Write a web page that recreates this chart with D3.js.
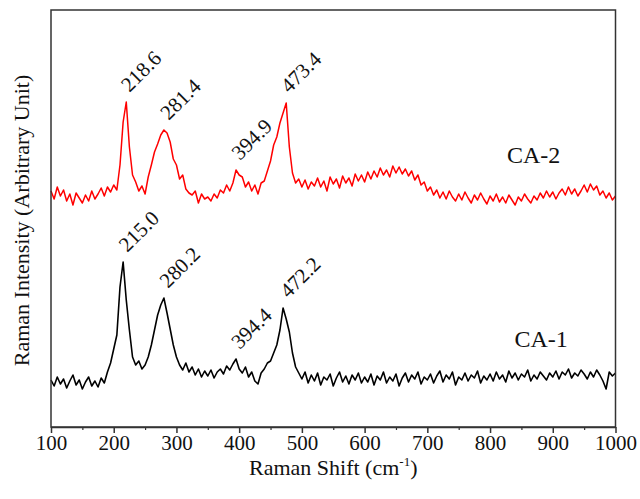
<!DOCTYPE html>
<html>
<head>
<meta charset="utf-8">
<script src="https://cdn.jsdelivr.net/npm/d3@7"></script>
<style>
  html, body { margin: 0; padding: 0; background: #fff; }
  text { font-family: "Liberation Serif", "Times New Roman", serif; fill: #111; }
</style>
</head>
<body>
<div id="chart"></div>
<script>
// Raman spectra, every 5 cm-1 (arbitrary units)
let shift = d3.range(100, 1001, 5);

let ca2 = [
  236,228,240,231,237,226,233,222,234,229,224,232,226,236,228,233,239,231,240,235,   // 100-195
  242,237,262,305,325,280,252,245,236,241,233,250,262,275,283,292,297,294,285,268,   // 200-295
  262,248,252,238,234,232,236,224,233,228,230,226,233,229,237,234,242,236,244,257,   // 300-395
  252,250,240,245,236,242,233,244,246,256,266,282,290,304,314,324,280,254,244,248,   // 400-495
  240,247,238,245,241,249,240,246,236,250,243,248,239,251,244,249,241,253,246,252,   // 500-595
  245,255,248,256,250,259,252,257,250,261,254,260,253,258,251,256,247,252,242,245,   // 600-695
  236,240,232,237,229,235,228,236,230,226,233,227,235,229,224,232,227,234,228,223,   // 700-795
  231,226,233,225,230,224,232,227,222,230,226,233,228,224,231,227,234,229,236,230,   // 800-895
  235,228,234,238,232,240,233,238,231,236,242,235,243,237,241,232,236,229,234,227,   // 900-995
  231                                                                                // 1000
];

let ca1 = [
  47,41,50,43,48,39,46,52,42,47,38,45,50,41,46,40,49,44,55,64,          // 100-195
  78,92,140,165,127,97,70,62,66,58,62,70,82,97,112,122,129,114,98,82,   // 200-295
  70,62,57,64,55,60,52,58,50,56,51,57,49,55,58,53,61,57,63,68,          // 300-395
  58,54,60,50,55,46,43,54,58,64,66,74,82,97,119,108,95,74,60,54,        // 400-495
  48,55,44,52,46,54,42,50,47,53,41,49,55,45,51,43,52,47,54,44,          // 500-595
  50,45,53,42,51,47,55,44,50,46,53,41,49,54,45,52,48,55,43,50,          // 600-695
  47,53,44,51,56,45,52,48,55,42,50,47,54,46,52,49,56,44,51,47,          // 700-795
  53,46,55,48,52,45,56,49,54,47,53,50,57,46,52,48,55,51,47,54,          // 800-895
  50,56,48,55,52,58,49,54,51,57,53,48,55,50,57,52,46,38,55,51,          // 900-995
  54                                                                    // 1000
];

let peaksCA2 = [218.6, 281.4, 394.9, 473.4];
let peaksCA1 = [215.0, 280.2, 394.4, 472.2];
let seriesNames = ['CA-1', 'CA-2'];
let xTicks = d3.range(100, 1001, 100);
let xMinorTicks = d3.range(150, 1000, 100);

let width = 640, height = 499;
let margin = {'top': 10, 'bottom': 72, 'left': 51, 'right': 24.5};

let svg = d3.select('#chart').append('svg').attr('width', width).attr('height', height);

let xScale = d3.scaleLinear().domain([100, 1000]).range([margin.left, width - margin.right]);
let yScale = d3.scaleLinear().domain([0, 417]).range([height - margin.bottom, margin.top]);

let series = [
  {'name': seriesNames[0], 'values': ca1, 'peaks': peaksCA1, 'color': '#000', 'lw': 1.6, 'label': [839, 80]},
  {'name': seriesNames[1], 'values': ca2, 'peaks': peaksCA2, 'color': '#ff0000', 'lw': 1.5, 'label': [827, 264]}
];

let line = d3.line().x((d, i) => xScale(shift[i])).y(d => yScale(d));

series.forEach(s => {
  svg.append('path').datum(s.values)
    .attr('fill', 'none')
    .attr('stroke', s.color)
    .attr('stroke-width', s.lw)
    .attr('stroke-linejoin', 'round')
    .attr('d', line);

  // peak labels, rotated, sitting just above each peak
  s.peaks.forEach(p => {
    let top = d3.max(s.values.filter((v, i) => Math.abs(shift[i] - p) <= 6));
    let px = xScale(p) + 4, py = yScale(top) - 9;
    svg.append('text')
      .attr('transform', 'translate(' + [px, py] + ') rotate(-45)')
      .attr('font-size', 21)
      .text(p.toFixed(1));
  });

  svg.append('text')
    .attr('x', xScale(s.label[0]))
    .attr('y', yScale(s.label[1]))
    .attr('font-size', 24)
    .text(s.name);
});

// frame
let x0 = xScale.range()[0], x1 = xScale.range()[1];
let y0 = yScale.range()[0], y1 = yScale.range()[1];
svg.append('rect')
  .attr('x', x0).attr('y', y1)
  .attr('width', x1 - x0).attr('height', y0 - y1)
  .attr('fill', 'none').attr('stroke', '#333').attr('stroke-width', 1.5);

let axis = svg.append('g')
  .attr('transform', 'translate(0,' + y0 + ')')
  .call(d3.axisBottom(xScale).tickValues(xTicks).tickFormat(d3.format('d'))
    .tickSize(6).tickPadding(2).tickSizeOuter(0));
axis.select('.domain').attr('stroke', '#333').attr('stroke-width', 1.5);
axis.selectAll('.tick line').attr('stroke', '#333').attr('stroke-width', 1.5);
axis.selectAll('.tick text')
  .attr('font-family', '"Liberation Serif", serif')
  .attr('font-size', 21).attr('fill', '#111');

let minor = svg.append('g')
  .attr('transform', 'translate(0,' + y0 + ')')
  .call(d3.axisBottom(xScale).tickValues(xMinorTicks).tickSize(3).tickFormat(''));
minor.select('.domain').remove();
minor.selectAll('.tick line').attr('stroke', '#333').attr('stroke-width', 1.2);

// axis titles
let xt = svg.append('text')
  .attr('x', (x0 + x1) / 2)
  .attr('y', 475)
  .attr('text-anchor', 'middle')
  .attr('font-size', 22);
xt.append('tspan').text('Raman Shift (cm');
xt.append('tspan').attr('font-size', 13).attr('dy', -9).text('-1');
xt.append('tspan').attr('dy', 9).text(')');

svg.append('text')
  .attr('transform', 'translate(29,' + ((y0 + y1) / 2 + 2) + ') rotate(-90)')
  .attr('text-anchor', 'middle')
  .attr('font-size', 22)
  .text('Raman Intensity (Arbitrary Unit)');
</script>
</body>
</html>
